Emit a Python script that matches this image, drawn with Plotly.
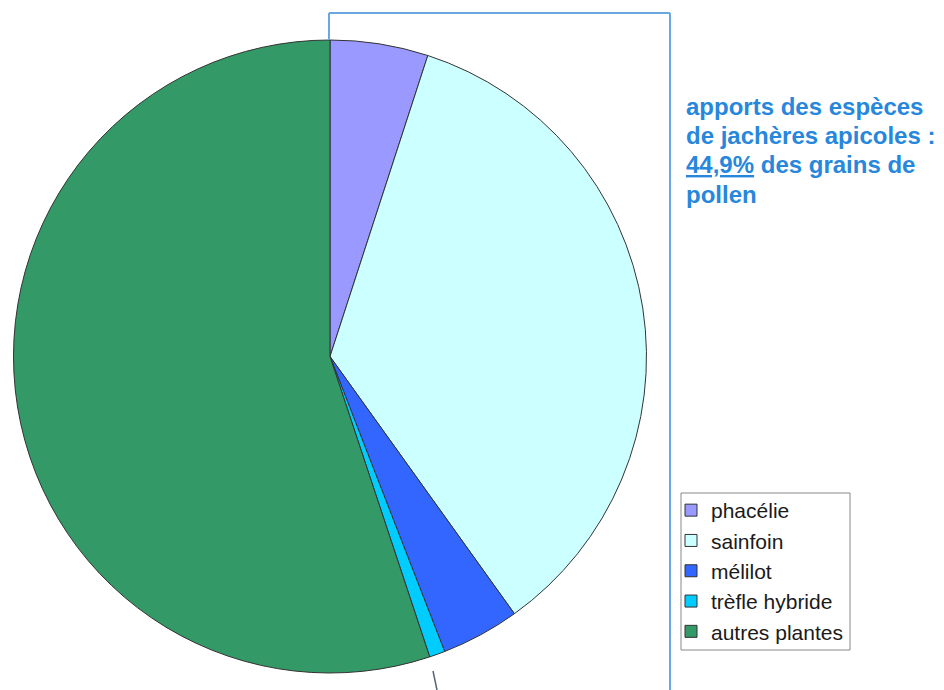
import plotly.graph_objects as go

categories = ["phacélie", "sainfoin", "mélilot", "trèfle hybride", "autres plantes"]
values = [5.0, 35.1, 4.0, 0.8, 55.1]
colors = ["#9999FF", "#CCFFFF", "#3366FF", "#00CCFF", "#339966"]
note_lines = ["apports des espèces", "de jachères apicoles :",
              "<u>44,9%</u> des grains de", "pollen"]

W, H = 944, 690
FONT = "Liberation Sans, Arial, sans-serif"

def px(x):
    return x / W

def py(y):
    return 1 - y / H

fig = go.Figure()
fig.add_trace(go.Pie(
    labels=categories,
    values=values,
    sort=False,
    direction="clockwise",
    rotation=0,
    textinfo="none",
    hoverinfo="label+percent",
    marker=dict(colors=colors, line=dict(color="#333333", width=1)),
    domain=dict(x=[px(13), px(647)], y=[py(673), py(40)]),
))

line_col = "#6AA8E4"
shapes = [
    dict(type="line", xref="paper", yref="paper", x0=px(329), y0=py(13), x1=px(670), y1=py(13),
         line=dict(color=line_col, width=2)),
    dict(type="line", xref="paper", yref="paper", x0=px(670), y0=py(13), x1=px(670), y1=0,
         line=dict(color=line_col, width=2)),
    dict(type="line", xref="paper", yref="paper", x0=px(329), y0=py(13), x1=px(329), y1=py(40),
         line=dict(color=line_col, width=2)),
    dict(type="line", xref="paper", yref="paper", x0=px(433), y0=py(671), x1=px(437), y1=0,
         line=dict(color="#556677", width=1.5)),
    dict(type="rect", xref="paper", yref="paper", x0=px(681), y0=py(493), x1=px(850), y1=py(650),
         line=dict(color="#888888", width=1), fillcolor="rgba(0,0,0,0)", layer="below"),
]

annotations = []
for i, t in enumerate(note_lines):
    annotations.append(dict(
        xref="paper", yref="paper", x=px(684), y=py(106 + i * 29.5), xanchor="left", yanchor="middle",
        align="left", showarrow=False,
        text="<b>" + t + "</b>",
        font=dict(size=24, color="#2787DC", family=FONT),
    ))

fig.update_layout(
    width=W, height=H,
    margin=dict(l=0, r=0, t=0, b=0),
    paper_bgcolor="white",
    plot_bgcolor="white",
    font=dict(family=FONT, color="#222222"),
    shapes=shapes,
    showlegend=True,
    legend=dict(
        x=px(671), y=py(490), xanchor="left", yanchor="top",
        borderwidth=0, bgcolor="rgba(0,0,0,0)",
        font=dict(size=21, family=FONT, color="#1a1a1a"),
        itemwidth=30,
    ),
    annotations=annotations,
)

fig.write_html("out.html", config={"displayModeBar": False},
               post_script="document.body.style.margin='0px';")
